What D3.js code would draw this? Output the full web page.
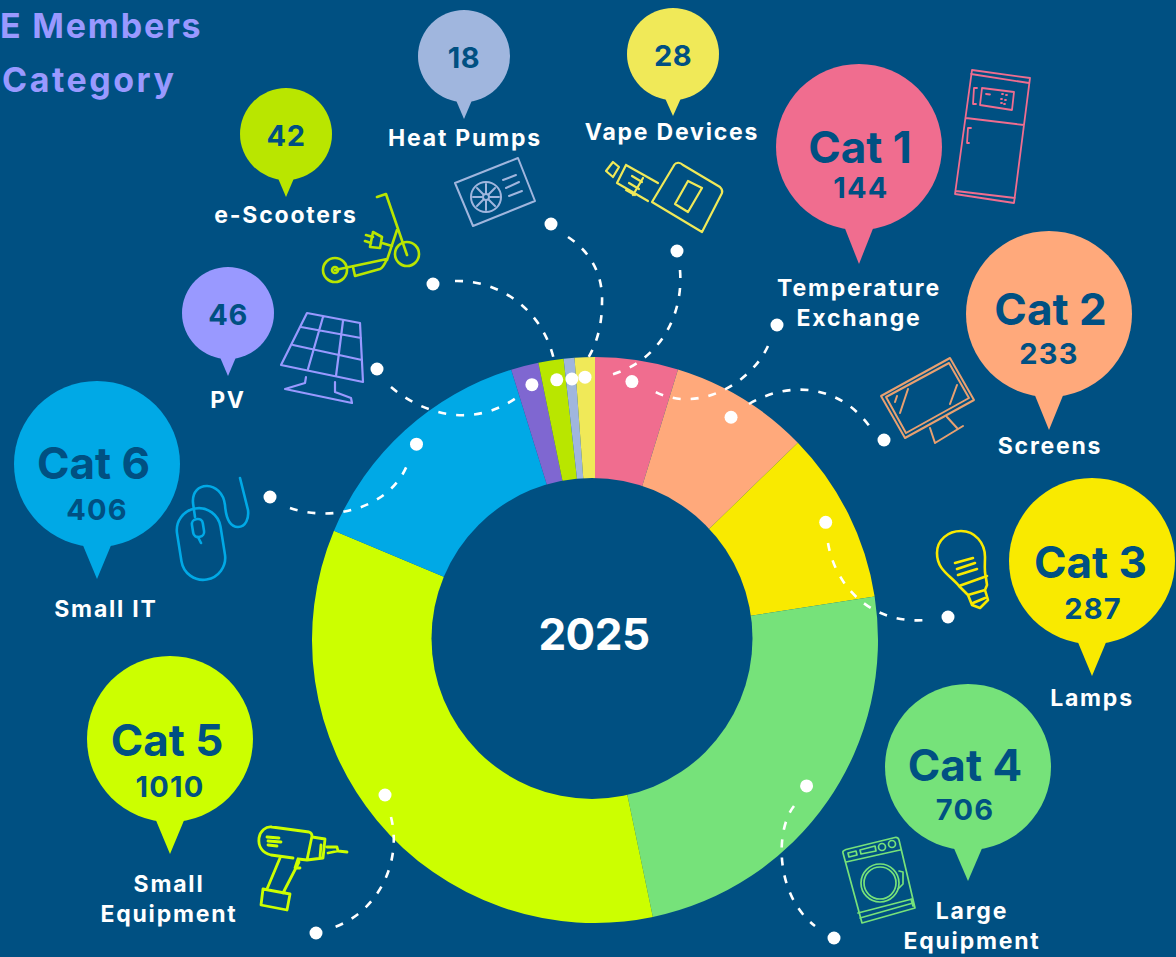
<!DOCTYPE html>
<html><head><meta charset="utf-8">
<script src="https://cdn.jsdelivr.net/npm/d3@7/dist/d3.min.js"></script>
<style>
html,body{margin:0;padding:0;background:#005082;overflow:hidden}
svg{display:block}
text{font-family:Inter,"Noto Sans",sans-serif;font-weight:700}
</style></head><body>
<svg id="c" width="1176" height="957"></svg>
<script>
// data
const categories=["Cat 1","Cat 2","Cat 3","Cat 4","Cat 5","Cat 6","PV","e-Scooters","Heat Pumps","Vape Devices"];
const values=[144,233,287,706,1010,406,46,42,18,28];
const labels=[["Temperature","Exchange"],["Screens"],["Lamps"],["Large","Equipment"],["Small","Equipment"],["Small IT"],["PV"],["e-Scooters"],["Heat Pumps"],["Vape Devices"]];
const year="2025";
const titleLines=["E Members","Category"];
// styles
const sliceColors=["#f06d8f","#ffa97b","#f9ea00","#76e27a","#ccff00","#00a9e6","#7f67d1","#b9e600","#a0b6de","#f0e958"];
const pinColors=["#f06d8f","#ffa97b","#f9ea00","#76e27a","#ccff00","#00a9e6","#9999ff","#b9e600","#a0b6de","#f0e958"];
const bg="#005082";
// layout of the annotations
const pinCx=[859,1049,1092,968,170,97,228,286,464,673];
const pinCy=[147,314,561,767,739,464,313,134,56,54];
const pinTip=[264,430,676,881,854,579,376,197,119,116];
const catTextX=[860,1050.5,1090.5,965,167,93.5];
const catTextY=[163,325,578,781,756,479];
const numTextX=[861,1049,1093,965,170,97];
const numTextY=[198,364,619,820,797,520];
const labelCx=[859,1050,1092,972,169,106,228,286,465,672];
const labelY=[296,454,706,919,892,617,408,223,146,140];
const dotAngleOffset=[-0.4,0,-0.5,-0.1,3.1,-0.1,0.5,0.6,0.2,-0.1];
const dotRadius=[261,261,259,257,261,265,263,263,262,263];
const outerDots=[[777,325],[884,440],[948,617],[834,938],[316,933],[270,497],[377,369],[433,284],[551,224],[677,251]];
const connectors=[
"M768,346C750,385 695,415 652,390",
"M749,404C790,380 840,385 870,427",
"M828,543C835,585 870,625 927,620",
"M794,806C775,830 775,895 815,926",
"M391,817C402,860 380,910 335,927",
"M290,508C330,522 390,510 408,463",
"M391,387C420,412 470,430 516,398",
"M455,281C500,280 543,310 554,360",
"M568,237C595,255 603,280 602,303C602,325 597,345 585,363",
"M680,270C684,320 655,365 606,376"];
const iconColors=["#f06d8f","#e9a070","#f9ea00","#76e27a","#ccff00","#00a9e6","#9999ff","#b9e600","#a0b6de","#f0e958"];
const iconWidths=[1.8,2,2.6,1.7,2.8,2.6,2.2,2.6,2,2.2];
const icons=[
"M972,70L1030,78L1014,203L955,194ZM971,74L1029,83M966,118L1024,125M956,191L1015,198M982,88L1014,92L1012,110L980,105ZM977,88L974,88L973,104L976,104M971,128L968,128L967,143L969,143M986,94L990,94.5M1002,94L1003,94M1006,95L1007,95M1001,99L1002,99M1005,100L1006,100M1001,103L1002,103M1004,104L1005,104",
"M950,358L974,400L905,438L881,396ZM949,363L969,398L906,433L886,397ZM908,389L900,413M897,396L895,402M957,385L950,404M930,428L935,443M947,417L957,428M935,443L963,426",
"M959,586C950,575 937,570 937,553C937,540 948,531 961,531C975,531 985,543 985,557C985,564 984,571 986,578L987,585L985,590M959,586L987,576M959,586L968,595L985,590M968,595L972,605L980,608L988,600L985,590M973,603L985,598M955,563L973,558M957,569L975,563M958,575L977,569",
"M843,853Q842,851 846,849.5L895,837.5Q898,837 899,840L915,908L862,923ZM846,862L900,850M860,918L913,903M858,913L912,899M911,899L913,906M848,853L856,851L857,855L849,857ZM860,850L875,846L876,851L861,854ZM899,871L903,872L903,884L898,889",
"M293,858L271,855C262,853 258,846 259,838C260,831 266,826 272,827L309,832Q312,833 312,836L307,860L298,859M312,837L325,839L323,858L307,860M321,845L320,857M327,847L337,847L338,851L328,853M338,851L347,852M280,858L267,889M299,862L283,893M298,859L295,868L300,868M263,889L290,894L287,910L261,905ZM267,837L279,838M268,841L281,842M268,845L277,846",
"M195,517L193,503C191,480 222,480 225,505C226,518 229,527 238,527C246,527 249,518 248,510L240,478M198,537L201,543",
"M307,313L360,323L363,382L281,365ZM301,327L361,338M293,345L362,360M323,317L308,369M343,321L336,376M306,377L305,383L285,389L352,403L351,398L335,392L335,382",
"M377,197L386,194L407,255M397,230L387,260M335,270L387,259Q383,268 380,269L355,276L353,267M382,243L392,246M373,232L382,237L380,248L370,247ZM373,237L366,235M371,243L365,241",
"M455,183L518,158L535,201L473,226ZM503,180L516,175M506,188L519,182M509,196L522,191M486,184L486,193M486,201L486,210M473,197L482,197M490,197L499,197M477,188L483,194M489,200L495,206M477,206L483,200M489,194L495,188",
"M613,162L619,167L613,177L606,171ZM626,165L658,183M617,183L648,201M626,165L617,183M643,178L633,195M632,176L642,182M629,183L639,189M626,190L635,195M677,163Q680,162 683,165L720,187Q723,190 722,193L702,232L652,202L673,167Q675,163 677,163ZM688,181L702,188L688,212L675,204Z"];
const iconRects=[[5,44,72,22,-9,201,544],[5,11,18,5,-9,198,528]];
const iconCircles=[[3,880,883,19],[3,880,883,16],[3,882,847,3.5],[3,892,844,3.5],[7,407,254,12],[7,335,270,12],[7,335,270,3],[8,486,197,15],[8,486,197,3]];

const cx=595,cy=640,rOuter=283,rCore=120;
const holeCx=592,holeCy=638.4,holeR=160.5;
const rot=-0.7*Math.PI/180;
const svg=d3.select("#c");
svg.append("rect").attr("width",1176).attr("height",957).attr("fill",bg);
const pie=d3.pie().sort(null).value(d=>d).startAngle(rot).endAngle(2*Math.PI+rot)(values);
// the seam between first and last slice sits exactly at 12 o'clock in the picture
pie[0].startAngle=0; pie[pie.length-1].endAngle=2*Math.PI;
const arc=d3.arc().innerRadius(rCore).outerRadius(rOuter);
const g=svg.append("g").attr("transform",`translate(${cx},${cy})`);
g.selectAll("path").data(pie).join("path").attr("d",arc).attr("fill",(d,i)=>sliceColors[i]);
svg.append("circle").attr("cx",holeCx).attr("cy",holeCy).attr("r",holeR).attr("fill",bg);

// icons
const ic=svg.append("g").attr("fill","none").attr("stroke-linecap","round").attr("stroke-linejoin","round");
ic.selectAll("path").data(icons).join("path").attr("d",d=>d).attr("stroke",(d,i)=>iconColors[i]).attr("stroke-width",(d,i)=>iconWidths[i]);
iconRects.forEach(r=>ic.append("rect").attr("x",r[5]-r[1]/2).attr("y",r[6]-r[2]/2).attr("width",r[1]).attr("height",r[2]).attr("rx",r[3])
 .attr("transform",`rotate(${r[4]} ${r[5]} ${r[6]})`).attr("stroke",iconColors[r[0]]).attr("stroke-width",iconWidths[r[0]]));
iconCircles.forEach(c=>{const i=c[0]; ic.append("circle").attr("cx",c[1]).attr("cy",c[2]).attr("r",c[3]).attr("stroke",iconColors[i]).attr("stroke-width",iconWidths[i]);});

// connectors and dots
svg.append("g").attr("fill","none").attr("stroke","#fff").attr("stroke-width",2.6).attr("stroke-dasharray","8 10")
 .selectAll("path").data(connectors).join("path").attr("d",d=>d);
svg.append("g").attr("fill","#fff").selectAll("circle").data(outerDots).join("circle")
 .attr("cx",d=>d[0]).attr("cy",d=>d[1]).attr("r",6.5);
g.append("g").attr("fill","#fff").selectAll("circle").data(pie).join("circle")
 .attr("transform",(d,i)=>{
   const a=(d.startAngle+d.endAngle)/2+dotAngleOffset[i]*Math.PI/180;
   return `translate(${dotRadius[i]*Math.sin(a)},${-dotRadius[i]*Math.cos(a)})`;})
 .attr("r",6.5);

// pins
const isLarge=i=>i<6;
const pins=svg.append("g").selectAll("g").data(categories).join("g");
pins.append("circle").attr("cx",(d,i)=>pinCx[i]).attr("cy",(d,i)=>pinCy[i]).attr("r",(d,i)=>isLarge(i)?83:46).attr("fill",(d,i)=>pinColors[i]);
pins.append("path").attr("fill",(d,i)=>pinColors[i]).attr("d",(d,i)=>{
  const r=isLarge(i)?83:46,hw=isLarge(i)?15:8.5,y=pinCy[i]+r-(isLarge(i)?4:3);
  return d3.line()([[pinCx[i]-hw,y],[pinCx[i]+hw,y],[pinCx[i],pinTip[i]]])+"Z";});
categories.forEach((c,i)=>{
  if(isLarge(i)){
    svg.append("text").text(c).attr("text-anchor","middle").attr("fill",bg)
      .attr("x",catTextX[i]).attr("y",catTextY[i]).attr("font-size",44);
    svg.append("text").text(values[i]).attr("text-anchor","middle").attr("fill",bg)
      .attr("x",numTextX[i]).attr("y",numTextY[i]).attr("font-size",29).attr("letter-spacing",1.2);
  } else {
    svg.append("text").text(values[i]).attr("text-anchor","middle").attr("fill",bg)
      .attr("x",pinCx[i]).attr("y",pinCy[i]+12).attr("font-size",29).attr("letter-spacing",0.5);
  }
});

// category labels
labels.forEach((ls,i)=>ls.forEach((t,k)=>svg.append("text").text(t).attr("text-anchor","middle").attr("fill","#fff")
 .attr("x",labelCx[i]).attr("y",labelY[i]+k*30).attr("font-size",23).attr("letter-spacing",1.8)));

// centre and title
svg.append("text").text(year).attr("x",594).attr("y",650).attr("text-anchor","middle").attr("fill","#fff").attr("font-size",44).attr("letter-spacing",-0.5);
svg.append("text").text(titleLines[0]).attr("x",0).attr("y",38).attr("fill","#9999ff").attr("font-size",34).attr("letter-spacing",1.8);
svg.append("text").text(titleLines[1]).attr("x",2).attr("y",92).attr("fill","#9999ff").attr("font-size",34).attr("letter-spacing",2.5);
</script>
</body></html>
